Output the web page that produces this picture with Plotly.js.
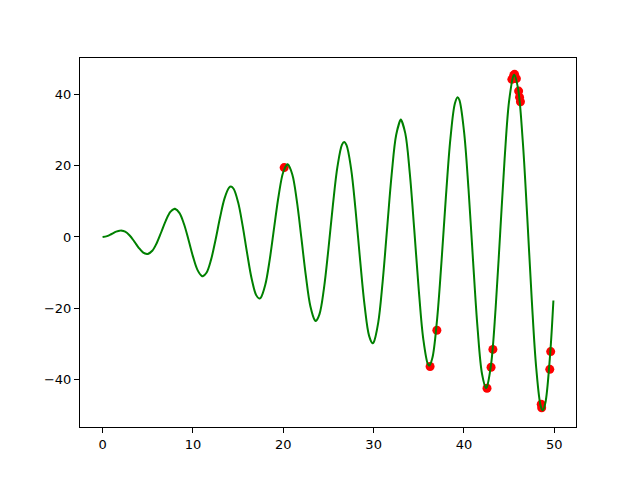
<!DOCTYPE html>
<html>
<head>
<meta charset="utf-8">
<script src="https://cdn.plot.ly/plotly-3.0.1.min.js"></script>
<style>html,body{margin:0;padding:0;background:#fff;}</style>
</head>
<body>
<div id="chart" style="width:640px;height:480px;"></div>
<script>
// Curve values
const curveX = [0,0.5,1,1.5,2,2.03,2.5,3,3.5,4,4.5,4.91,5,5.5,6,6.5,7,7.5,7.98,8,8.5,9,9.5,10,10.5,11,11.09,11.5,12,12.5,13,13.5,14,14.21,14.5,15,15.5,16,16.5,17,17.34,17.5,18,18.5,19,19.5,20,20.47,20.5,21,21.5,22,22.5,23,23.5,23.6,24,24.5,25,25.5,26,26.5,26.74,27,27.5,28,28.5,29,29.5,29.88,30,30.5,31,31.5,32,32.5,33,33.02,33.5,34,34.5,35,35.5,36,36.16,36.5,37,37.5,38,38.5,39,39.3,39.5,40,40.5,41,41.5,42,42.44,42.5,43,43.5,44,44.5,45,45.5,45.58,46,46.5,47,47.5,48,48.5,48.72,49,49.5,49.9];
const curveY = [0,0.24,0.84,1.50,1.82,1.82,1.50,0.42,-1.23,-3.03,-4.40,-4.81,-4.79,-3.88,-1.68,1.40,4.60,7.04,7.92,7.92,6.79,3.71,-0.71,-5.44,-9.24,-11.00,-11.04,-10.07,-6.44,-0.83,5.46,10.85,13.87,14.17,13.56,9.75,3.20,-4.61,-11.74,-16.34,-17.31,-17.12,-13.52,-6.34,2.85,11.81,18.26,20.45,20.43,17.57,10.14,-0.20,-10.96,-19.46,-23.45,-23.59,-21.73,-14.50,-3.31,9.16,19.83,25.95,26.72,25.82,19.27,7.59,-6.38,-19.24,-27.80,-29.87,-29.64,-24.23,-12.52,2.65,17.64,28.73,33.00,33.00,29.19,17.99,1.98,-14.99,-28.76,-35.70,-36.15,-34.03,-23.81,-7.43,11.26,27.64,37.59,39.29,38.46,29.80,13.54,-6.50,-25.44,-38.49,-42.43,-42.32,-35.77,-20.17,0.78,22.02,38.29,45.44,45.57,41.48,27.19,5.81,-17.45,-36.88,-47.61,-48.71,-46.73,-34.22,-17.84];

// Red points
const pointsX = [20.1,36.25,37.0,42.55,43.0,43.2,45.3,45.5,45.6,45.8,46.05,46.15,46.25,48.55,48.6,49.5,49.6];
const pointsY = [19.5,-36.4,-26.2,-42.5,-36.6,-31.6,44.3,45.4,45.7,44.5,41.0,39.3,38.0,-47.0,-48.0,-37.2,-32.2];

const traces = [
  {x: pointsX, y: pointsY, type: 'scatter', mode: 'markers',
   marker: {color: '#ff0000', size: 9, line: {width: 0}}, hoverinfo: 'skip'},
  {x: curveX, y: curveY, type: 'scatter', mode: 'lines',
   line: {color: '#008000', width: 2, shape: 'spline', smoothing: 1}, hoverinfo: 'skip'}
];

const axisCommon = {
  showline: true, mirror: true, linecolor: '#000', linewidth: 1,
  ticks: 'outside', ticklen: 5, tickwidth: 1, tickcolor: '#000',
  showgrid: false, zeroline: false,
  tickfont: {family: 'DejaVu Sans', size: 13, color: '#000'}
};

const layout = {
  width: 640, height: 480,
  margin: {l: 80, r: 64, t: 58, b: 53},
  paper_bgcolor: '#fff', plot_bgcolor: '#fff',
  showlegend: false,
  xaxis: Object.assign({}, axisCommon, {range: [-2.5, 52.4], tickvals: [0,10,20,30,40,50]}),
  yaxis: Object.assign({}, axisCommon, {range: [-53.4, 50.3], tickvals: [-40,-20,0,20,40], tickmode: 'array'})
};

Plotly.newPlot('chart', traces, layout, {displayModeBar: false, staticPlot: true});
</script>
</body>
</html>
